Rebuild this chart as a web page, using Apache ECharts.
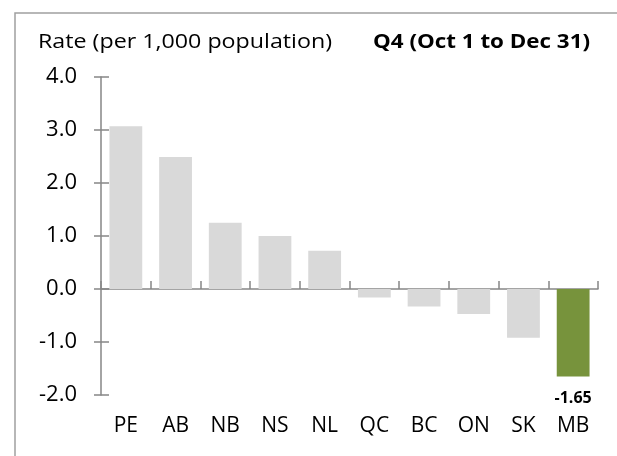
<!DOCTYPE html>
<html>
<head>
<meta charset="utf-8">
<script src="https://cdn.jsdelivr.net/npm/echarts@6/dist/echarts.min.js"></script>
<style>html,body{margin:0;padding:0;background:#fff}#c{width:617px;height:456px}</style>
</head>
<body>
<div id="c"></div>
<script>
var categories = ['PE', 'AB', 'NB', 'NS', 'NL', 'QC', 'BC', 'ON', 'SK', 'MB'];
var values = [3.07, 2.49, 1.25, 1.0, 0.72, -0.16, -0.33, -0.47, -0.92, -1.65];
var highlight = 'MB';
var yTicks = [-2, -1, 0, 1, 2, 3, 4];
var axisTitle = 'Rate (per 1,000 population)';
var periodTitle = 'Q4 (Oct 1 to Dec 31)';

var FONT = 'Open Sans';
function fitScale(text, font, target) {
  var ctx = document.createElement('canvas').getContext('2d');
  ctx.font = font;
  var w = ctx.measureText(text).width;
  return w > 0 ? target / w : 1;
}
var s1 = fitScale(axisTitle, 'normal 20px "Open Sans"', 294);
var s2 = fitScale(periodTitle, 'bold 20px "Open Sans"', 217);

var chart = echarts.init(document.getElementById('c'));
var data = values.map(function (v, i) {
  var isH = categories[i] === highlight;
  return {
    value: v,
    itemStyle: { color: isH ? '#77933c' : '#d9d9d9' },
    label: isH ? {
      show: true, position: 'bottom', distance: 14,
      formatter: function (p) { return p.value.toFixed(2); },
      fontFamily: FONT, fontWeight: 'bold', fontSize: 16, color: '#000'
    } : { show: false }
  };
});
chart.setOption({
  animation: false,
  graphic: [
    { type: 'rect', shape: { x: 15, y: 13, width: 700, height: 600 }, style: { fill: 'none', stroke: '#a0a0a0', lineWidth: 1.5 }, z: 0 },
    { type: 'text', x: 38, y: 42, scaleX: s1, style: { text: axisTitle, fontFamily: FONT, fontSize: 20, fontWeight: 'normal', fill: '#000', verticalAlign: 'middle', align: 'left' } },
    { type: 'text', x: 373, y: 42, scaleX: s2, style: { text: periodTitle, fontFamily: FONT, fontSize: 20, fontWeight: 'bold', fill: '#000', verticalAlign: 'middle', align: 'left' } }
  ],
  grid: { left: 101, right: 19, top: 77, bottom: 61 },
  xAxis: [
    {
      type: 'category', data: categories, position: 'bottom',
      axisLine: { onZero: true, lineStyle: { color: '#868686', width: 1.5 } },
      axisTick: { show: true, inside: true, length: 8, alignWithLabel: false, lineStyle: { color: '#868686', width: 1.5 } },
      axisLabel: { show: false }
    },
    {
      type: 'category', data: categories, position: 'bottom', gridIndex: 0,
      axisLine: { show: false, onZero: false },
      axisTick: { show: false },
      axisLabel: { show: true, margin: 21, fontFamily: FONT, fontSize: 21, color: '#000' }
    }
  ],
  yAxis: [
    {
      type: 'value', min: yTicks[0], max: yTicks[yTicks.length - 1], interval: 1,
      splitLine: { show: false },
      axisLine: { show: true, lineStyle: { color: '#868686', width: 1.5 } },
      axisTick: { show: true, length: 7, lineStyle: { color: '#868686', width: 1.5 } },
      axisLabel: { margin: 24, fontFamily: FONT, fontSize: 22, color: '#000', formatter: function (v) { return v.toFixed(1); } }
    },
    {
      type: 'value', min: yTicks[0], max: yTicks[yTicks.length - 1], interval: 1, position: 'left',
      splitLine: { show: false },
      axisLine: { show: false },
      axisTick: { show: true, inside: true, length: 8, lineStyle: { color: '#868686', width: 1.5 } },
      axisLabel: { show: false }
    }
  ],
  series: [{
    type: 'bar', data: data, barWidth: '66%', xAxisIndex: 0, yAxisIndex: 0
  }]
});
</script>
</body>
</html>
